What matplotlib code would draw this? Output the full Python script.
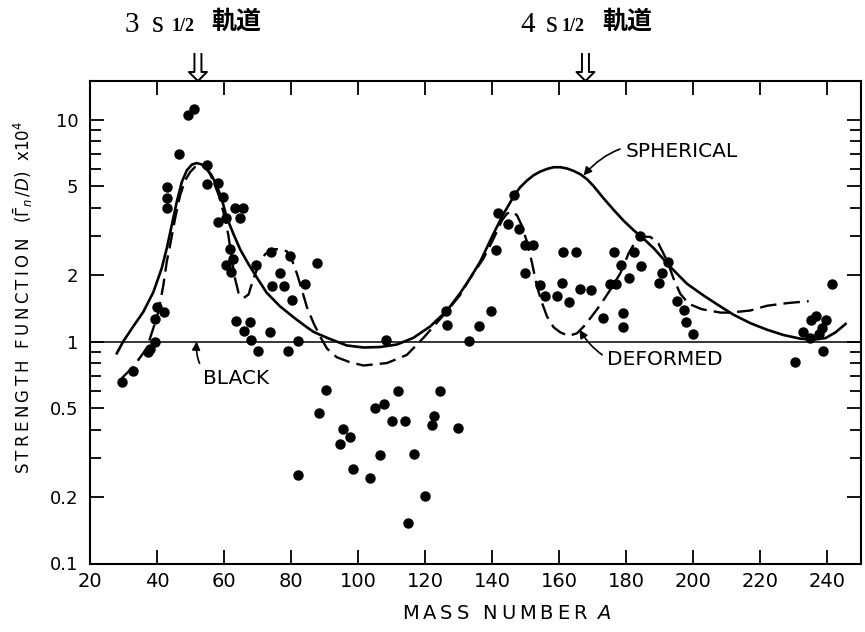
import matplotlib
matplotlib.use("Agg")
import matplotlib.pyplot as plt
from matplotlib.lines import Line2D
from matplotlib.ticker import FixedLocator, NullFormatter

# ---------------- data ----------------
pts_A = [29.4, 32.9, 37.4, 37.9, 39.4, 39.9, 39.4, 42.1, 43.0, 43.0, 43.0, 46.6, 49.1, 51.1,
         54.8, 54.8, 58.2, 59.7, 58.2, 60.7, 63.2, 65.5, 64.7, 61.7, 62.7, 60.7, 62.0, 69.6,
         74.1, 79.6, 76.6, 74.4, 77.9, 84.0, 80.4, 87.8, 63.5, 67.7, 65.9, 68.0, 73.8, 70.1,
         79.2, 82.1,
         108.4, 133.0, 126.5, 136.0, 139.7, 126.3, 90.3, 88.2, 95.5, 97.7, 94.5, 82.0, 98.6,
         103.4, 106.4, 105.0, 107.6, 112.0, 110.2, 113.9, 116.8, 119.9, 114.9, 122.5, 122.1,
         124.3, 129.7,
         141.1, 141.8, 144.6, 146.6, 148.1, 149.9, 152.3, 149.9, 154.1, 155.8, 159.2, 160.8,
         162.8, 161.0, 165.0, 166.2, 169.4, 172.9, 175.2, 176.9, 176.4, 178.4, 179.1, 178.9,
         180.9, 182.3, 184.1, 184.3, 189.6, 190.5, 192.3, 195.0, 197.2, 197.9, 200.0,
         241.4, 236.7, 235.0, 239.7, 238.4, 232.8, 234.8, 237.5, 238.7, 230.3]
pts_S = [0.66, 0.735, 0.90, 0.93, 1.0, 1.43, 1.27, 1.36, 4.98, 4.44, 3.98, 7.0, 10.5, 11.2,
         6.22, 5.1, 5.16, 4.46, 3.46, 3.62, 3.98, 3.98, 3.62, 2.61, 2.35, 2.21, 2.05, 2.21,
         2.54, 2.44, 2.03, 1.78, 1.78, 1.81, 1.54, 2.25, 1.24, 1.22, 1.11, 1.02, 1.10, 0.905,
         0.908, 1.01,
         1.015, 1.005, 1.19, 1.17, 1.37, 1.37, 0.603, 0.478, 0.404, 0.373, 0.345, 0.25, 0.266,
         0.243, 0.309, 0.50, 0.523, 0.60, 0.439, 0.438, 0.312, 0.202, 0.152, 0.46, 0.42,
         0.60, 0.406,
         2.59, 3.81, 3.40, 4.56, 3.22, 2.73, 2.73, 2.04, 1.80, 1.61, 1.60, 1.84,
         1.51, 2.54, 2.54, 1.72, 1.71, 1.28, 1.81, 1.81, 2.53, 2.22, 1.35, 1.16,
         1.94, 2.54, 3.00, 2.18, 1.83, 2.04, 2.29, 1.52, 1.39, 1.22, 1.085,
         1.82, 1.31, 1.25, 1.25, 1.15, 1.10, 1.035, 1.08, 0.91, 0.81]

sph_A = [28, 29.9, 32.9, 35.9, 38.9, 41.4, 42.9, 44.4, 45.9, 47.4, 48.9, 50.4, 51.8, 53.3,
         54.8, 56.3, 57.8, 59.3, 60.8, 62.8, 64.8, 67.3, 69.8, 72.7, 76.7, 81.2, 84.7, 86.7,
         90.7, 96.6, 101.6, 106.6, 111.6, 116.5, 121.5, 126.5, 130.4, 133.4, 136.4, 140.4,
         143.4, 146.9, 148.4, 150.4, 152.3, 154.3, 156.3, 158.3, 160.3, 162.3, 164.3, 166.3,
         168.3, 170.2, 173.2, 176.2, 179.2, 182.2, 185.0, 188.2, 193.1, 198.1, 203.1, 207.1,
         212, 217, 222, 226.9, 231.9, 235.9, 239.4, 242.4, 245.4]
sph_S = [0.885, 1.0, 1.17, 1.36, 1.67, 2.14, 2.63, 3.35, 4.27, 5.24, 5.91, 6.27, 6.37, 6.28,
         6.01, 5.6, 5.05, 4.39, 3.62, 3.05, 2.6, 2.23, 1.94, 1.66, 1.44, 1.27, 1.16, 1.105,
         1.04, 0.96, 0.94, 0.945, 0.97, 1.04, 1.17, 1.38, 1.65, 1.93, 2.29, 3.07,
         3.77, 4.64, 4.97, 5.32, 5.61, 5.83, 5.99, 6.1, 6.1, 6.02, 5.87, 5.67,
         5.38, 5.02, 4.42, 3.92, 3.5, 3.17, 2.92, 2.63, 2.17, 1.82, 1.61, 1.47,
         1.32, 1.21, 1.13, 1.07, 1.03, 1.02, 1.036, 1.10, 1.2]

def_A = [29.5, 32.9, 36.9, 38.9, 40.4, 41.9, 42.9, 43.9, 45.4, 46.9, 48.4, 49.9, 51.3, 52.8,
         54.3, 55.8, 57.3, 58.8, 60.3, 61.3, 62.3, 63.3, 64.3, 65.8, 67.3, 68.7, 70.2, 72.2,
         74.2, 76.7, 78.7, 80.2, 81.7, 83.2, 84.7, 86.7, 88.7, 90.7, 93.6, 97.6, 101.6, 108.6,
         114.5, 119.5, 122.5, 126.5, 130.4, 133.4, 137.4, 140.4, 142.9, 144.4, 145.9, 147.4,
         148.8, 150.4, 151.8, 153.3, 154.8, 156.3, 158.3, 160.3, 162.8, 165.3, 167.3, 169.7,
         172.2, 175.2, 178.2, 180.7, 182.7, 184.7, 187.2, 189.6, 192.1, 194.1, 196.1, 198.6,
         202.4, 208.1, 211, 217, 222, 228, 234.4]
def_S = [0.684, 0.77, 0.93, 1.15, 1.36, 1.8, 2.29, 2.72, 3.59, 4.57, 5.33, 5.81, 6.11, 6.22,
         6.11, 5.7, 5.05, 4.4, 3.56, 3.0, 2.35, 1.91, 1.66, 1.57, 1.63, 1.91, 2.19, 2.47,
         2.6, 2.61, 2.55, 2.34, 2.03, 1.71, 1.43, 1.21, 1.05, 0.93, 0.85, 0.806, 0.78, 0.80,
         0.87, 1.04, 1.17, 1.37, 1.62, 1.93, 2.37, 2.91, 3.52, 3.77, 3.86, 3.7,
         3.33, 2.8, 2.28, 1.78, 1.5, 1.3, 1.16, 1.10, 1.06, 1.09, 1.17, 1.3,
         1.46, 1.71, 2.03, 2.5, 2.82, 2.97, 2.96, 2.76, 2.32, 1.92, 1.64, 1.48,
         1.40, 1.35, 1.35, 1.38, 1.45, 1.49, 1.52]

black_level = 1.0

x_ticks = [20, 40, 60, 80, 100, 120, 140, 160, 180, 200, 220, 240]
y_major = [0.1, 0.2, 0.5, 1, 2, 5, 10]
y_major_labels = ["0.1", "0.2", "0.5", "1", "2", "5", "10"]
y_minor = [0.3, 0.4, 0.6, 0.7, 0.8, 0.9, 3, 4, 6, 7, 8, 9]

orbit_A = [52.2, 167.8]

# ---------------- figure ----------------
W, H = 865, 632
fig = plt.figure(figsize=(W / 100, H / 100), dpi=100)
ax = fig.add_axes([90 / W, 1 - 563.5 / H, (861 - 90) / W, (563.5 - 80.5) / H])

def px(x, y):
    return x / W, 1 - y / H

ax.set_yscale("log")
ax.set_xlim(20, 250)
ax.set_ylim(0.1, 15)

ax.plot(pts_A, pts_S, "o", color="black", markersize=6.5, zorder=5)
ax.plot(sph_A, sph_S, "-", color="black", lw=1.9, zorder=4, solid_joinstyle="round")
ax.plot(def_A, def_S, color="black", lw=1.7, dashes=(7, 3), zorder=4)
ax.axhline(black_level, color="black", lw=1.1, zorder=3)

# axes styling
for s in ax.spines.values():
    s.set_linewidth(1.5)
ax.xaxis.set_major_locator(FixedLocator(x_ticks))
ax.set_xticklabels([str(v) for v in x_ticks])
ax.yaxis.set_major_locator(FixedLocator(y_major))
ax.set_yticklabels(y_major_labels)
ax.yaxis.set_minor_locator(FixedLocator(y_minor))
ax.yaxis.set_minor_formatter(NullFormatter())
ax.tick_params(axis="both", which="both", direction="in", top=True, right=True,
               width=1.3, color="black")
ax.tick_params(axis="x", which="major", length=10, labelsize=14, pad=6)
ax.tick_params(axis="y", which="major", length=10, labelsize=13, pad=8.5)
ax.tick_params(axis="y", which="minor", length=8)

ts = "\u2009"
xl = ts.join("MASS NUMBER ") + r"$A$"
ax.set_xlabel(xl, fontsize=14)
ax.xaxis.set_label_coords(0.54, -0.084)
yl = ts.join("STRENGTH FUNCTION") + "   " + r"$(\bar{\Gamma}_n\,/D)$" + "  x10$^4$"
ax.set_ylabel(yl, fontsize=12)
ax.yaxis.set_label_coords(-0.071, 0.55)

# annotations
ax.annotate("SPHERICAL", xy=(167.2, 5.6), xytext=(179.7, 7.16), fontsize=14.5,
            va="center", ha="left",
            arrowprops=dict(arrowstyle="-|>", color="black", lw=1.2, mutation_scale=12,
                            shrinkA=2, shrinkB=0, connectionstyle="arc3,rad=0.35"))
ax.annotate("DEFORMED", xy=(166.0, 1.13), xytext=(174.3, 0.826), fontsize=14.5,
            va="center", ha="left",
            arrowprops=dict(arrowstyle="-|>", color="black", lw=1.2, mutation_scale=12,
                            shrinkA=2, shrinkB=0, connectionstyle="arc3,rad=-0.4"))
ax.annotate("BLACK", xy=(51.8, 1.0), xytext=(53.7, 0.684), fontsize=14.5,
            va="center", ha="left",
            arrowprops=dict(arrowstyle="-|>", color="black", lw=1.2, mutation_scale=12,
                            shrinkA=2, shrinkB=0, connectionstyle="arc3,rad=-0.6"))

# top orbit labels
serif = "Liberation Serif"
cjk = ["Noto Sans CJK JP", "DejaVu Sans"]
for (x3, xs, xh, xk, num) in [(125, 152, 172, 211, "3"), (520, 546, 562, 602, "4")]:
    fig.text(*px(x3, 32), num, fontsize=21, family=serif, ha="left", va="baseline")
    fig.text(*px(xs, 32), "s", fontsize=22, family=serif, ha="left", va="baseline")
    fig.text(*px(xh, 31), "1/2", fontsize=13, family=serif, ha="left", va="baseline",
             fontweight="bold")
    fig.text(*px(xk, 22), "軌道", fontsize=18, family=cjk, fontweight="bold",
             ha="left", va="center")

# hollow double arrows pointing to the orbit positions
for A in orbit_A:
    xd, _ = ax.transData.transform((A, 1.0))
    cx = xd
    top_y = 54
    head_y = 72
    tip_y = 81
    xs_ = [cx - 3.5, cx - 3.5, cx - 9, cx, cx + 9, cx + 3.5, cx + 3.5]
    ys_ = [top_y, head_y, head_y, tip_y, head_y, head_y, top_y]
    fx = [v / W for v in xs_]
    fy = [1 - v / H for v in ys_]
    fig.add_artist(Line2D(fx, fy, transform=fig.transFigure, color="black", lw=1.4))

fig.savefig("out.png", dpi=100)
